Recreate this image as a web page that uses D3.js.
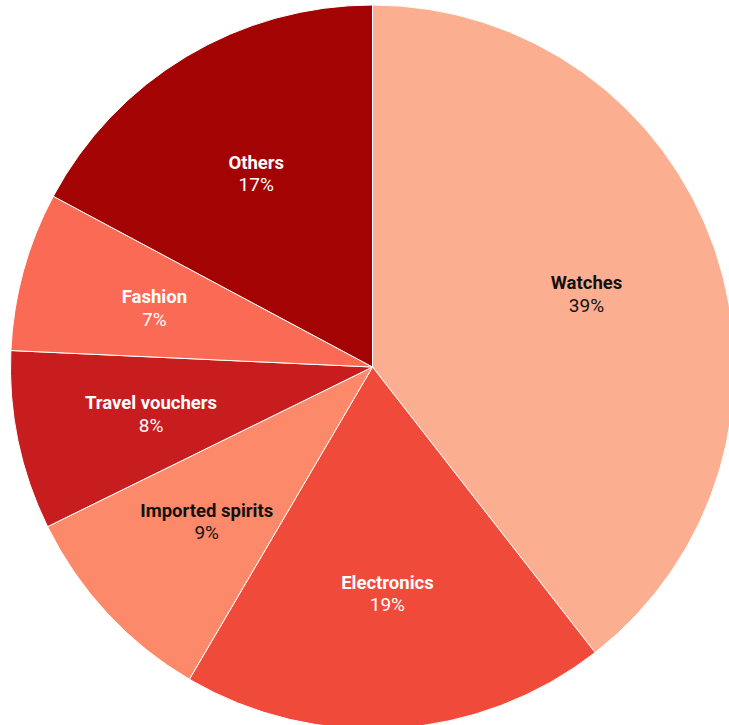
<!DOCTYPE html>
<html><head><meta charset="utf-8">
<script src="https://cdn.jsdelivr.net/npm/d3@7"></script>
<style>html,body{margin:0;padding:0;background:#fff;overflow:hidden}</style>
</head><body>
<svg id="chart" width="729" height="725"></svg>
<script>
const categories = ["Watches", "Electronics", "Imported spirits", "Travel vouchers", "Fashion", "Others"];
const values = [39.5, 19.0, 9.3, 8.0, 7.1, 17.2];
const pctLabels = ["39%", "19%", "9%", "8%", "7%", "17%"];
const colors = ["#fcae91", "#ef4a3a", "#fc8a6a", "#c81d1f", "#fb6a55", "#a30303"];
const textColors = ["#111", "#fff", "#111", "#fff", "#fff", "#fff"];

const svg = d3.select("#chart");
const cx = 372.5, cy = 367, r = 362;
const g = svg.append("g").attr("transform", `translate(${cx},${cy})`);
const data = categories.map((c, i) => ({c, v: values[i], p: pctLabels[i], i}));
const pie = d3.pie().value(d => d.v).sort(null);
const arc = d3.arc().innerRadius(0).outerRadius(r);
const labelArc = d3.arc().innerRadius(r * 0.625).outerRadius(r * 0.625);
const arcs = pie(data);
g.selectAll("path").data(arcs).join("path")
  .attr("d", arc).attr("fill", d => colors[d.data.i])
  .attr("stroke", "#fff").attr("stroke-width", 1);
const lab = g.selectAll("g.lab").data(arcs).join("g").attr("class", "lab")
  .attr("transform", d => `translate(${labelArc.centroid(d)})`);
lab.append("text").attr("text-anchor", "middle").attr("y", -4)
  .attr("font-family", "Roboto, sans-serif").attr("font-weight", "bold").attr("font-size", 18.5)
  .attr("fill", d => textColors[d.data.i]).text(d => d.data.c);
lab.append("text").attr("text-anchor", "middle").attr("y", 18.5)
  .attr("font-family", "Roboto, sans-serif").attr("font-size", 19)
  .attr("fill", d => textColors[d.data.i]).text(d => d.data.p);
</script>
</body></html>
